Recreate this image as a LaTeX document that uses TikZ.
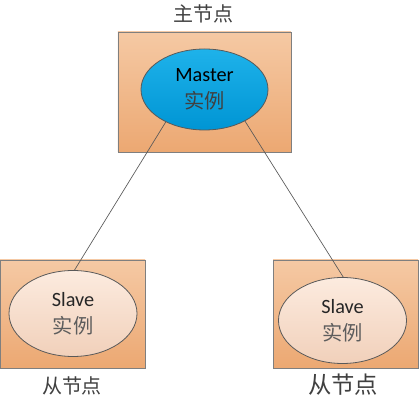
\documentclass[tikz,border=0pt]{standalone}
\usepackage{fontspec}
\setmainfont{Carlito}
\newfontfamily\cjk{Noto Sans CJK SC}
\usetikzlibrary{shapes.geometric,shadows}
\definecolor{boxtop}{HTML}{F5C9A4}
\definecolor{boxbot}{HTML}{ECA872}
\definecolor{mtop}{HTML}{1EB2EA}
\definecolor{mbot}{HTML}{0095D4}
\definecolor{stop}{HTML}{FCEBDF}
\definecolor{sbot}{HTML}{F1D0BA}
\definecolor{edge}{HTML}{7F7F7F}
\definecolor{txt}{HTML}{404040}
\begin{document}
\begin{tikzpicture}[x=0.75pt,y=-0.75pt,
  box/.style={draw=edge, line width=0.6pt, top color=boxtop, bottom color=boxbot,
    drop shadow={shadow xshift=0.8pt, shadow yshift=-0.8pt, opacity=0.35}},
  inst/.style={ellipse, draw=black!65, line width=0.6pt, inner sep=0pt, align=center,
    font=\fontsize{15.2}{21.5}\selectfont},
  master/.style={inst, top color=mtop, bottom color=mbot, minimum width=95.25pt, minimum height=60.75pt},
  slave/.style={inst, top color=stop, bottom color=sbot, minimum width=96pt, minimum height=64.5pt},
  tag/.style={text=txt, font=\cjk\fontsize{15}{15}\selectfont}]
\useasboundingbox (0,0) rectangle (419,402);
% boxes
\path[box] (118,32) rectangle (291,152);
\path[box] (0,260) rectangle (145,368);
\path[box] (273,260) rectangle (418,368);
% instances
\node[master] (m) at (204.5,89.5) {Master\\[-1pt]{\cjk\color{txt}实例}};
\node[slave] (s1) at (73,313.5) {\color{black!85}Slave\\[-1pt]{\cjk\color{txt!85}实例}};
\node[slave] (s2) at (342.5,320.5) {\color{black!85}Slave\\[-1pt]{\cjk\color{txt!85}实例}};
% labels
\node[tag] (lm) at (204,14) {主节点};
\node[tag] (l1) at (72,386) {从节点};
\node[tag, font=\cjk\fontsize{17.5}{17.5}\selectfont] (l2) at (343,385) {从节点};
% links
\draw[black!65, line width=0.5pt] (m.220) -- (s1.88);
\draw[black!65, line width=0.5pt] (m.322) -- (s2.89);
\end{tikzpicture}
\end{document}
